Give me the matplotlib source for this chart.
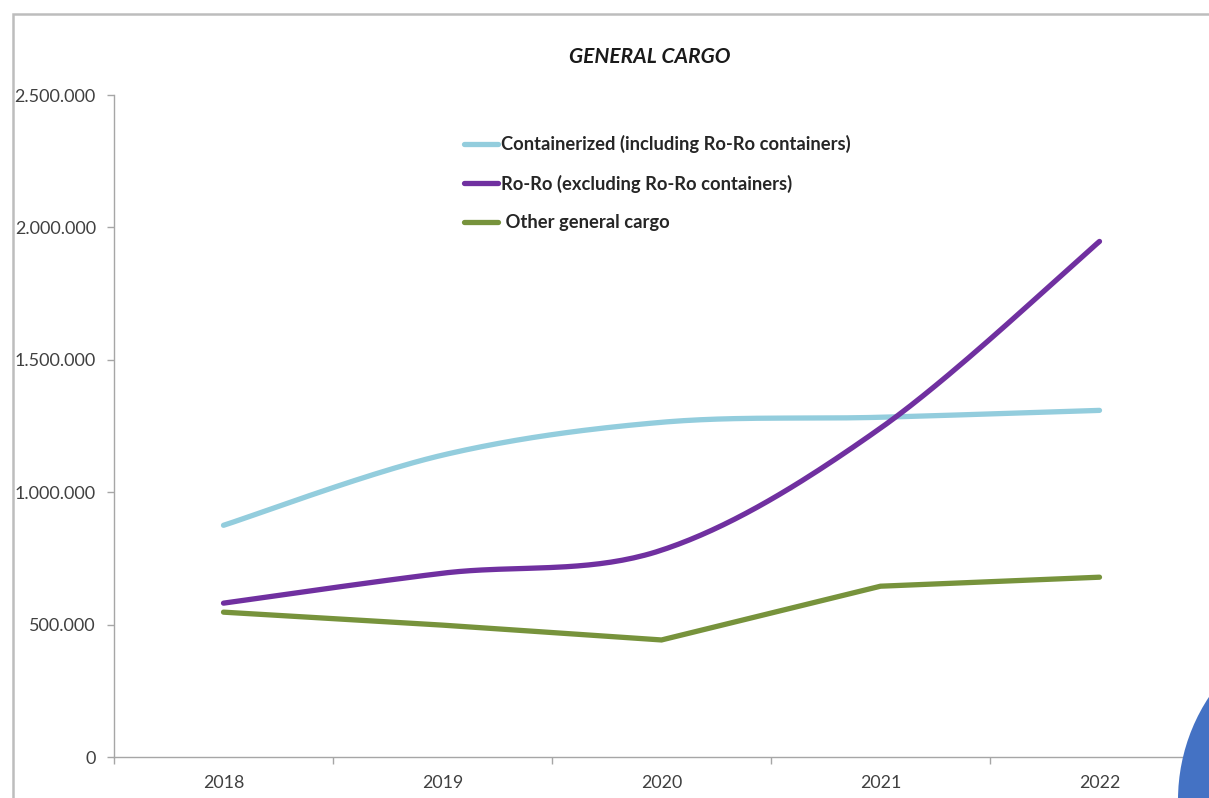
import numpy as np
import matplotlib.pyplot as plt
from matplotlib.patches import Rectangle, Circle
from matplotlib.ticker import FuncFormatter, FixedLocator

years = ["2018", "2019", "2020", "2021", "2022"]
containerized = [875000, 1140000, 1264000, 1283000, 1309000]
roro = [581000, 694000, 781000, 1242000, 1947000]
other_cargo = [547000, 498000, 442000, 645000, 679000]

series_labels = [
    "Containerized (including Ro-Ro containers)",
    "Ro-Ro (excluding Ro-Ro containers)",
    " Other general cargo",
]


def smooth(xs, ys, steps=40):
    # Catmull-Rom through the points, like the spreadsheet "smoothed line" option
    xs = np.asarray(xs, float)
    ys = np.asarray(ys, float)
    px = np.concatenate([[xs[0]], xs, [xs[-1]]])
    py = np.concatenate([[ys[0]], ys, [ys[-1]]])
    out_x, out_y = [], []
    t = np.linspace(0, 1, steps)
    for i in range(1, len(px) - 2):
        p0, p1, p2, p3 = [np.array([px[j], py[j]]) for j in (i - 1, i, i + 1, i + 2)]
        c1 = p1 + (p2 - p0) / 6
        c2 = p2 - (p3 - p1) / 6
        b = ((1 - t) ** 3)[:, None] * p1 + (3 * (1 - t) ** 2 * t)[:, None] * c1 \
            + (3 * (1 - t) * t ** 2)[:, None] * c2 + (t ** 3)[:, None] * p2
        out_x.extend(b[:, 0])
        out_y.extend(b[:, 1])
    return out_x, out_y


W, H = 1209, 798
fig = plt.figure(figsize=(W / 100, H / 100), dpi=100)
plt.rcParams['font.family'] = ['Lato', 'DejaVu Sans']

# outer chart border (runs off the right and bottom edges)
fig.patches.append(Rectangle((13 / W, -0.1), 1.2, 1 - 14 / H + 0.1, transform=fig.transFigure,
                             fill=False, edgecolor='#bdbdbd', linewidth=1.8, zorder=0))

ax = fig.add_axes([114 / W, 1 - 757 / H, (W - 114) / W, (757 - 95) / H])
x = np.arange(len(years))

bx, by = smooth(x, containerized)
ax.plot(bx, by, color='#93CDDD', lw=3.8, solid_capstyle='round', label=series_labels[0])
rx, ry = smooth(x, roro)
ax.plot(rx, ry, color='#7030A0', lw=3.8, solid_capstyle='round', label=series_labels[1])
ax.plot(x, other_cargo, color='#77933C', lw=3.8, solid_capstyle='round',
        solid_joinstyle='miter', label=series_labels[2])

ax.set_xlim(-0.5, len(years) - 0.5)
ax.set_ylim(0, 2500000)
ax.set_yticks(np.arange(0, 2500001, 500000))
ax.yaxis.set_major_formatter(FuncFormatter(lambda v, p: f"{int(v):,}".replace(",", ".")))
ax.set_xticks(x)
ax.set_xticklabels(years)
ax.xaxis.set_minor_locator(FixedLocator(np.arange(-0.5, len(years), 1.0)))

for side in ("top", "right"):
    ax.spines[side].set_visible(False)
for side in ("left", "bottom"):
    ax.spines[side].set_color('#a6a6a6')
    ax.spines[side].set_linewidth(1.0)
ax.spines['bottom'].set_zorder(1)

ax.tick_params(axis='y', length=5, width=1, color='#a6a6a6', pad=8,
               labelsize=13, labelcolor='#404040')
ax.tick_params(axis='x', which='major', length=0, pad=13, labelsize=12.8, labelcolor='#404040')
ax.tick_params(axis='x', which='minor', length=5, width=1, color='#a6a6a6')

fig.text(650 / W, 1 - 57 / H, "GENERAL CARGO", ha='center', va='center',
         fontsize=15, fontweight='bold', fontstyle='italic', color='#1a1a1a')

leg = ax.legend(loc='upper left', bbox_to_anchor=(457 / W, 1 - 128 / H),
                bbox_transform=fig.transFigure, frameon=False, handlelength=1.85,
                handletextpad=0.15, labelspacing=1.16, borderaxespad=0,
                prop={'size': 13.2, 'weight': 'bold'})
for t in leg.get_texts():
    t.set_color('#262626')

# round blue badge in the lower-right corner, sized in pixels so it stays circular
badge = Circle(((1365) / 100, (H - 800) / 100), 187 / 100, transform=fig.dpi_scale_trans,
               facecolor='#4472C4', edgecolor='none', zorder=5)
fig.patches.append(badge)

fig.savefig("out.png", dpi=100)
